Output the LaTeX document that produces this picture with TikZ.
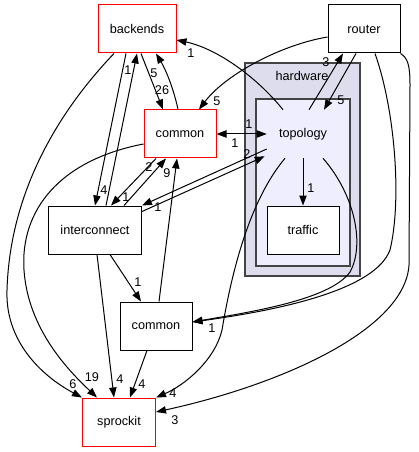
\documentclass[tikz,border=0pt]{standalone}
\usepackage{fontspec}
\setmainfont{Liberation Sans}
\usetikzlibrary{arrows.meta,calc}
\definecolor{hwfill}{HTML}{DDDDEE}
\definecolor{topofill}{HTML}{EEEEFF}
\definecolor{clusterline}{HTML}{444444}
\begin{document}
\begin{tikzpicture}[x=0.75pt,y=-0.75pt,
  font=\fontsize{9.5pt}{11pt}\selectfont,
  box/.style={draw=black, fill=white, line width=0.75pt, minimum width=54pt, minimum height=36pt, inner sep=0pt},
  redbox/.style={box, draw=red},
  cluster/.style={draw=clusterline, line width=1.1pt, inner sep=0pt},
  edge/.style={line width=0.75pt, -{Triangle[length=7.5pt,width=5.5pt]}},
  dedge/.style={line width=0.75pt, {Triangle[length=7.5pt,width=5.5pt]}-{Triangle[length=7.5pt,width=5.5pt]}},
  lbl/.style={inner sep=0pt}]
\useasboundingbox (0,0) rectangle (418,452);
% clusters
\node[cluster, fill=hwfill, minimum width=86.25pt, minimum height=159.75pt] (hardware) at (302.5,169.5) {};
\node[lbl] (hwlabel) at (302,76) {hardware};
\node[cluster, fill=topofill, minimum width=70.5pt, minimum height=125.25pt] (topocluster) at (303,182.5) {};
\node[inner sep=0pt, minimum width=54pt, minimum height=36pt] (topology) at (303,134) {topology};
% nodes
\node[redbox, minimum width=58.5pt] (backends) at (137,29) {backends};
\node[box] (router) at (364,29) {router};
\node[redbox] (commonR) at (180,134) {common};
\node[box, minimum width=69.75pt] (interconnect) at (95,230) {interconnect};
\node[box] (commonL) at (156,326) {common};
\node[redbox, minimum width=54.75pt] (sprockit) at (119,422) {sprockit};
\node[box] (traffic) at (303,230) {traffic};
% edges
\draw[edge] ($(backends.south)+(-11,0)$) -- (interconnect.north);
\node[lbl] (l1) at (104,190) {4};
\draw[edge] ($(interconnect.north)+(11,0)$) -- (backends.south);
\node[lbl] (l2) at (128,70) {1};
\draw[edge] ($(backends.south)+(4,0)$) -- ($(commonR.north)+(-17,0)$);
\node[lbl] (l3) at (162,90) {26};
\draw[edge] ($(commonR.north)+(-2,0)$) .. controls (174,90) and (166,70) .. ($(backends.south)+(19,0)$);
\node[lbl] (l4) at (154,73) {5};
\draw[edge] ($(topology.north)+(-20,0)$) .. controls (255,75) and (215,48) .. ($(backends.east)+(0,11)$);
\node[lbl] (l5) at (191,53) {1};
\draw[edge] ($(router.west)+(0,8)$) .. controls (280,45) and (225,75) .. ($(commonR.north)+(19,0)$);
\node[lbl] (l6) at (217,101) {5};
\draw[dedge] (commonR.east) -- (topology.west);
\node[lbl] (l7a) at (249,124) {1};
\node[lbl] (l7b) at (235,143) {1};
\draw[edge] ($(topology.north)+(6,0)$) -- ($(router.south)+(-21,0)$);
\node[lbl] (l8) at (326,62) {3};
\draw[edge] ($(router.south)+(-8,0)$) -- ($(topology.north)+(21,0)$);
\node[lbl] (l9) at (341,100) {5};
\draw[edge] (topology.south) -- (traffic.north);
\node[lbl] (l10) at (311,188) {1};
\draw[edge] ($(commonR.south)+(-24,0)$) -- ($(interconnect.north)+(16,0)$);
\node[lbl] (l11) at (126,197) {1};
\draw[edge] ($(interconnect.north)+(29,0)$) -- ($(commonR.south)+(-14,0)$);
\node[lbl] (l12) at (149,167) {2};
\draw[edge] ($(commonL.north)+(3,0)$) -- ($(commonR.south)+(-3,0)$);
\node[lbl] (l13) at (167,173) {9};
\draw[edge] ($(interconnect.north east)+(0,6)$) -- ($(topology.south west)+(-2,-2)$);
\node[lbl] (l14) at (247,154) {2};
\draw[edge] ($(topology.west)+(0,15)$) -- (interconnect.north east);
\node[lbl] (l15) at (158,207) {1};
\draw[edge] ($(interconnect.south)+(15,0)$) -- ($(commonL.north)+(-15,0)$);
\node[lbl] (l16) at (138,282) {1};
\draw[edge] ($(interconnect.south)+(2,0)$) -- ($(sprockit.north)+(-5,0)$);
\node[lbl] (l17) at (120,379) {4};
\draw[edge] ($(commonL.south)+(-9,0)$) -- ($(sprockit.north)+(11,0)$);
\node[lbl] (l18) at (142,384) {4};
\draw[edge] ($(backends.south)+(-23,0)$) .. controls (60,110) and (10,190) .. (7,290) .. controls (5,340) and (40,375) .. (sprockit.north west);
\node[lbl] (l19) at (73,384) {6};
\draw[edge] ($(commonR.west)+(0,10)$) .. controls (60,160) and (20,210) .. (24,270) .. controls (28,330) and (70,372) .. ($(sprockit.north)+(-22,0)$);
\node[lbl] (l20) at (92,377) {19};
\draw[edge] ($(topology.south)+(-18,0)$) .. controls (250,200) and (232,270) .. (222,330) .. controls (215,360) and (185,385) .. (sprockit.north east);
\node[lbl] (l21) at (173,393) {4};
\draw[edge] ($(topology.south)+(20,0)$) .. controls (355,195) and (365,245) .. (350,272) .. controls (330,300) and (250,312) .. ($(commonL.east)+(0,-4)$);
\draw[edge] ($(router.south)+(11,0)$) .. controls (395,110) and (402,200) .. (390,250) .. controls (375,290) and (280,310) .. ($(commonL.east)+(0,-4)$);
\node[lbl] (l22) at (212,328) {1};
\draw[edge] (router.south east) .. controls (408,58) and (410,66) .. (410,85) -- (409,265) .. controls (405,330) and (280,385) .. ($(sprockit.east)+(0,-10)$);
\node[lbl] (l23) at (175,420) {3};
\end{tikzpicture}
\end{document}
